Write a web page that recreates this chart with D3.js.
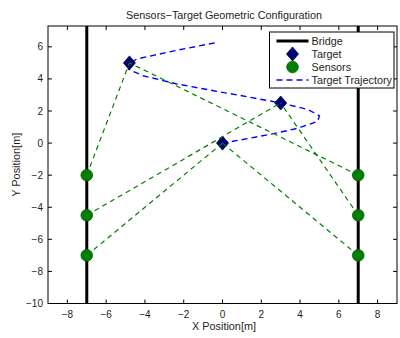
<!DOCTYPE html>
<html>
<head>
<meta charset="utf-8">
<script src="https://cdn.jsdelivr.net/npm/d3@7"></script>
<style>
  html, body { margin: 0; padding: 0; background: #fff; }
  svg { display: block; font-family: "Liberation Sans", Arial, Helvetica, sans-serif; }
</style>
</head>
<body>
<svg id="chart" width="400" height="338"></svg>
<script>
// Bridge edges (x positions, metres)
const bridgeX = [-7, 7];

// Sensor positions on both bridge edges
const sensorX = [-7, -7, -7, 7, 7, 7];
const sensorY = [-2, -4.5, -7, -2, -4.5, -7];

// Target positions
const targetX = [-4.8, 3, 0];
const targetY = [5, 2.5, 0];

// Sensor index -> target index for each line of sight
const linkSensor = [0, 1, 2, 3, 4, 5];
const linkTarget = [0, 1, 2, 0, 1, 2];

// Target trajectory samples
const trajX = [-0.4, -2.5, -4.4, -4.8, -4.85, -4.1, -2.4, -0.4, 1.0, 3.0, 4.4, 5.0, 4.9, 3.9, 2.75, 1.4, 0.0];
const trajY = [6.25, 5.75, 5.25, 5.0, 4.6, 4.2, 3.7, 3.25, 2.95, 2.5, 2.1, 1.7, 1.35, 0.93, 0.62, 0.3, 0.0];

// Axis ticks
const xTicks = [-8, -6, -4, -2, 0, 2, 4, 6, 8];
const yTicks = [-10, -8, -6, -4, -2, 0, 2, 4, 6];

// Legend entries
const legendLabels = ["Bridge", "Target", "Sensors", "Target Trajectory"];

(function draw() {
  const svg = d3.select("#chart");
  const mL = 48, mR = 397, mT = 26, mB = 303.5;

  const x = d3.scaleLinear().domain([-9, 9]).range([mL, mR]);
  const y = d3.scaleLinear().domain([-10, 7.3]).range([mB, mT]);

  const green = "#008000";
  const navy = "#00007a";
  const ink = "#1e1e1e";
  const fmt = d => (d < 0 ? "\u2212" + Math.abs(d) : String(d));

  // size a text so it spans the given width
  function fit(sel, width) {
    const w = sel.node().getComputedTextLength();
    const fs = parseFloat(sel.attr("font-size"));
    sel.attr("font-size", (fs * width / w).toFixed(2));
    return sel;
  }

  svg.append("clipPath").attr("id", "plotClip")
    .append("rect").attr("x", mL).attr("y", mT)
    .attr("width", mR - mL).attr("height", mB - mT);

  const plot = svg.append("g").attr("clip-path", "url(#plotClip)");

  // Bridge edges
  plot.selectAll("line.bridge").data(bridgeX).enter().append("line")
    .attr("class", "bridge")
    .attr("x1", d => x(d)).attr("x2", d => x(d))
    .attr("y1", y(-10)).attr("y2", y(7.3))
    .attr("stroke", "#000").attr("stroke-width", 3);

  // Trajectory
  const traj = trajX.map((d, i) => [d, trajY[i]]);
  plot.append("path")
    .attr("d", d3.line().x(d => x(d[0])).y(d => y(d[1]))(traj))
    .attr("fill", "none").attr("stroke", "#0000ff")
    .attr("stroke-width", 1.4).attr("stroke-dasharray", "6,4");

  // Targets
  const diamond = (cx, cy) => `M${cx},${cy - 7}L${cx + 6},${cy}L${cx},${cy + 7}L${cx - 6},${cy}Z`;
  plot.selectAll("path.target").data(targetX).enter().append("path")
    .attr("class", "target")
    .attr("d", (d, i) => diamond(x(d), y(targetY[i])))
    .attr("fill", navy).attr("stroke", "#000033").attr("stroke-width", 0.8);

  // Lines of sight sensor -> target
  plot.selectAll("line.link").data(linkSensor).enter().append("line")
    .attr("class", "link")
    .attr("x1", d => x(sensorX[d])).attr("y1", d => y(sensorY[d]))
    .attr("x2", (d, i) => x(targetX[linkTarget[i]]))
    .attr("y2", (d, i) => y(targetY[linkTarget[i]]))
    .attr("stroke", green).attr("stroke-width", 1.2)
    .attr("stroke-dasharray", "5,4");

  // Sensors
  plot.selectAll("circle.sensor").data(sensorX).enter().append("circle")
    .attr("class", "sensor")
    .attr("cx", d => x(d)).attr("cy", (d, i) => y(sensorY[i]))
    .attr("r", 5.8)
    .attr("fill", green).attr("stroke", "#005a00").attr("stroke-width", 0.8);

  // Axes frame with inward ticks on all sides
  const tickLen = 4;
  const axes = svg.append("g").attr("fill", "none").attr("stroke", "#000").attr("stroke-width", 1);
  axes.append("rect").attr("x", mL).attr("y", mT)
    .attr("width", mR - mL).attr("height", mB - mT);
  xTicks.forEach(t => {
    axes.append("line").attr("x1", x(t)).attr("x2", x(t)).attr("y1", mB).attr("y2", mB - tickLen);
    axes.append("line").attr("x1", x(t)).attr("x2", x(t)).attr("y1", mT).attr("y2", mT + tickLen);
  });
  yTicks.forEach(t => {
    axes.append("line").attr("y1", y(t)).attr("y2", y(t)).attr("x1", mL).attr("x2", mL + tickLen);
    axes.append("line").attr("y1", y(t)).attr("y2", y(t)).attr("x1", mR).attr("x2", mR - tickLen);
  });

  // Tick labels
  svg.append("g").selectAll("text").data(xTicks).enter().append("text")
    .attr("x", d => x(d)).attr("y", mB + 14)
    .attr("text-anchor", "middle").attr("font-size", 10).attr("fill", ink)
    .text(fmt);
  svg.append("g").selectAll("text").data(yTicks).enter().append("text")
    .attr("x", mL - 5).attr("y", d => y(d) + 3.5)
    .attr("text-anchor", "end").attr("font-size", 10).attr("fill", ink)
    .text(fmt);

  // Titles
  fit(svg.append("text").attr("x", 224).attr("y", 18.5)
    .attr("text-anchor", "middle").attr("font-size", 10.5).attr("fill", ink)
    .text("Sensors\u2212Target Geometric Configuration"), 196);
  fit(svg.append("text").attr("x", 224).attr("y", 330)
    .attr("text-anchor", "middle").attr("font-size", 10.5).attr("fill", ink)
    .text("X Position[m]"), 64);
  fit(svg.append("text")
    .attr("transform", `translate(19.5,${(mT + mB) / 2}) rotate(-90)`)
    .attr("text-anchor", "middle").attr("font-size", 10.5).attr("fill", ink)
    .text("Y Position[m]"), 64);

  // Legend
  const lg = svg.append("g").attr("transform", "translate(269.5,32)");
  lg.append("rect").attr("width", 124.5).attr("height", 56)
    .attr("fill", "#fff").attr("stroke", "#000").attr("stroke-width", 1);
  const rowY = [9, 22, 35, 48];
  const sx0 = 7, sx1 = 39, sxm = 23;
  lg.append("line").attr("x1", sx0).attr("x2", sx1).attr("y1", rowY[0]).attr("y2", rowY[0])
    .attr("stroke", "#000").attr("stroke-width", 3);
  lg.append("path").attr("d", diamond(sxm, rowY[1])).attr("fill", navy)
    .attr("stroke", "#000033").attr("stroke-width", 0.8);
  lg.append("circle").attr("cx", sxm).attr("cy", rowY[2]).attr("r", 5.8)
    .attr("fill", green).attr("stroke", "#005a00").attr("stroke-width", 0.8);
  lg.append("line").attr("x1", sx0).attr("x2", sx1).attr("y1", rowY[3]).attr("y2", rowY[3])
    .attr("stroke", "#0000ff").attr("stroke-width", 1.4).attr("stroke-dasharray", "6,4");
  const labels = lg.selectAll("text.lbl").data(legendLabels).enter().append("text")
    .attr("class", "lbl")
    .attr("x", 42).attr("y", (d, i) => rowY[i] + 4)
    .attr("font-size", 10.5).attr("fill", ink)
    .text(d => d);
  // common size so the longest label spans the box
  const longest = labels.filter(d => d === "Target Trajectory");
  fit(longest, 80.5);
  labels.attr("font-size", longest.attr("font-size"));
})();
</script>
</body>
</html>
